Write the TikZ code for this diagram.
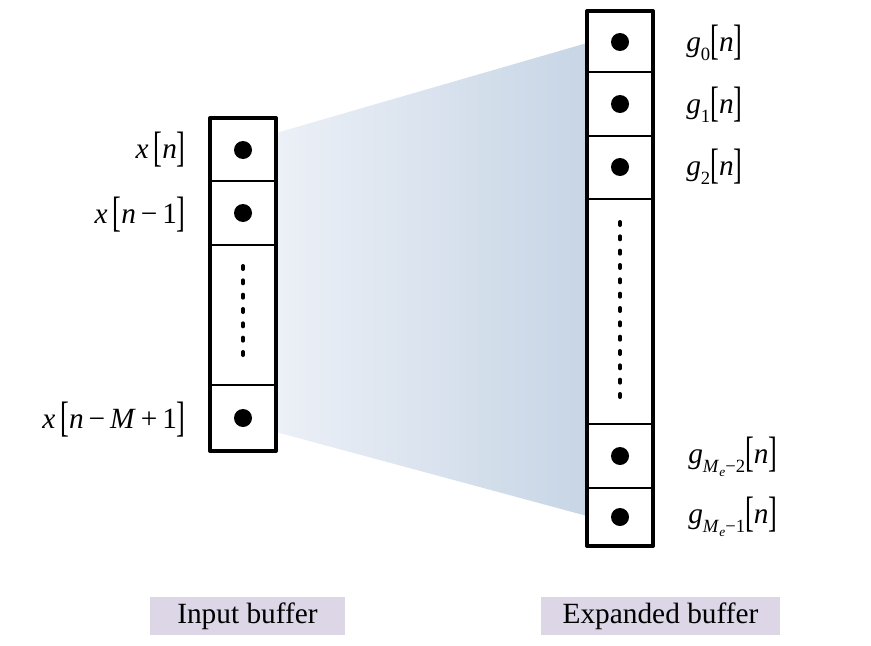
\documentclass[tikz,border=0pt]{standalone}
\usepackage{fontspec}
\setmainfont{Liberation Serif}
\usepackage{graphicx}
\definecolor{gradL}{RGB}{236,240,247}
\definecolor{gradR}{RGB}{199,213,229}
\definecolor{capfill}{RGB}{220,214,230}
\newcommand{\lbr}{\raisebox{-0.1em}{\scalebox{0.9}[1.45]{[}}}
\newcommand{\rbr}{\raisebox{-0.1em}{\scalebox{0.9}[1.45]{]}}}
\newcommand{\sbs}[1]{\raisebox{-0.3em}{\fontsize{14}{14}\selectfont #1}}
\newcommand{\ssbs}[1]{\raisebox{-0.25em}{\fontsize{10}{10}\selectfont #1}}
\newcommand{\vi}[1]{\textit{#1}}
\begin{document}
\begin{tikzpicture}[x=0.75pt,y=-0.75pt,
  outer/.style={line width=3pt, line join=round},
  inner/.style={line width=1.5pt},
  dotmark/.style={fill=black},
  dotline/.style={line width=3pt, line cap=round, dash pattern=on 2.25pt off 8.5pt},
  lab/.style={font=\fontsize{22}{26}\selectfont, inner sep=0pt},
  capbox/.style={fill=capfill, font=\fontsize{22}{26}\selectfont, inner sep=0pt}]
\useasboundingbox (0,0) rectangle (871,646);
% gradient funnel
\shade[left color=gradL, right color=gradR] (276,133) -- (587,43) -- (587,516) -- (276,432) -- cycle;
% left buffer
\coordinate (L1) at (243,150);
\coordinate (L2) at (243,213);
\coordinate (L3) at (243,418);
\draw[inner] (210,181) -- (276,181) (210,245) -- (276,245) (210,385) -- (276,385);
\draw[outer] (210,118) rectangle (276,451);
\fill[dotmark] (L1) circle[radius=6.75pt];
\fill[dotmark] (L2) circle[radius=6.75pt];
\fill[dotmark] (L3) circle[radius=6.75pt];
\draw[dotline] (243,266) -- (243,357);
% right buffer
\coordinate (R1) at (620,42);
\coordinate (R2) at (620,104);
\coordinate (R3) at (620,167);
\coordinate (R4) at (620,456);
\coordinate (R5) at (620,517);
\draw[inner] (587,72) -- (653,72) (587,136) -- (653,136) (587,199) -- (653,199) (587,424) -- (653,424) (587,488) -- (653,488);
\draw[outer] (587,11) rectangle (653,546);
\foreach \p in {R1,R2,R3,R4,R5} \fill[dotmark] (\p) circle[radius=6.75pt];
\draw[dotline] (620,222) -- (620,407);
% left labels
\node[lab, anchor=east] (xn) at (186,150) {\vi{x}\,\lbr\vi{n}\rbr};
\node[lab, anchor=east] (xn1) at (186,215) {\vi{x}\,\lbr\vi{n}\,−\,1\rbr};
\node[lab, anchor=east] (xnM) at (186,420) {\vi{x}\,\lbr\vi{n}\,−\,\vi{M}\,+\,1\rbr};
% right labels
\node[lab, anchor=west] (g0) at (686,43) {\vi{g}\sbs{0}\lbr\vi{n}\rbr};
\node[lab, anchor=west] (g1) at (686,105) {\vi{g}\sbs{1}\lbr\vi{n}\rbr};
\node[lab, anchor=west] (g2) at (686,167) {\vi{g}\sbs{2}\lbr\vi{n}\rbr};
\node[lab, anchor=west] (gM2) at (688,457) {\vi{g}\sbs{\vi{M}\ssbs{\vi{e}}−2}\lbr\vi{n}\rbr};
\node[lab, anchor=west] (gM1) at (688,517) {\vi{g}\sbs{\vi{M}\ssbs{\vi{e}}−1}\lbr\vi{n}\rbr};
% captions
\node[capbox, minimum width=146pt, minimum height=29pt] (inbuf) at (247.5,616) {Input buffer};
\node[capbox, minimum width=179pt, minimum height=29pt] (exbuf) at (660.5,616) {Expanded buffer};
\end{tikzpicture}
\end{document}
